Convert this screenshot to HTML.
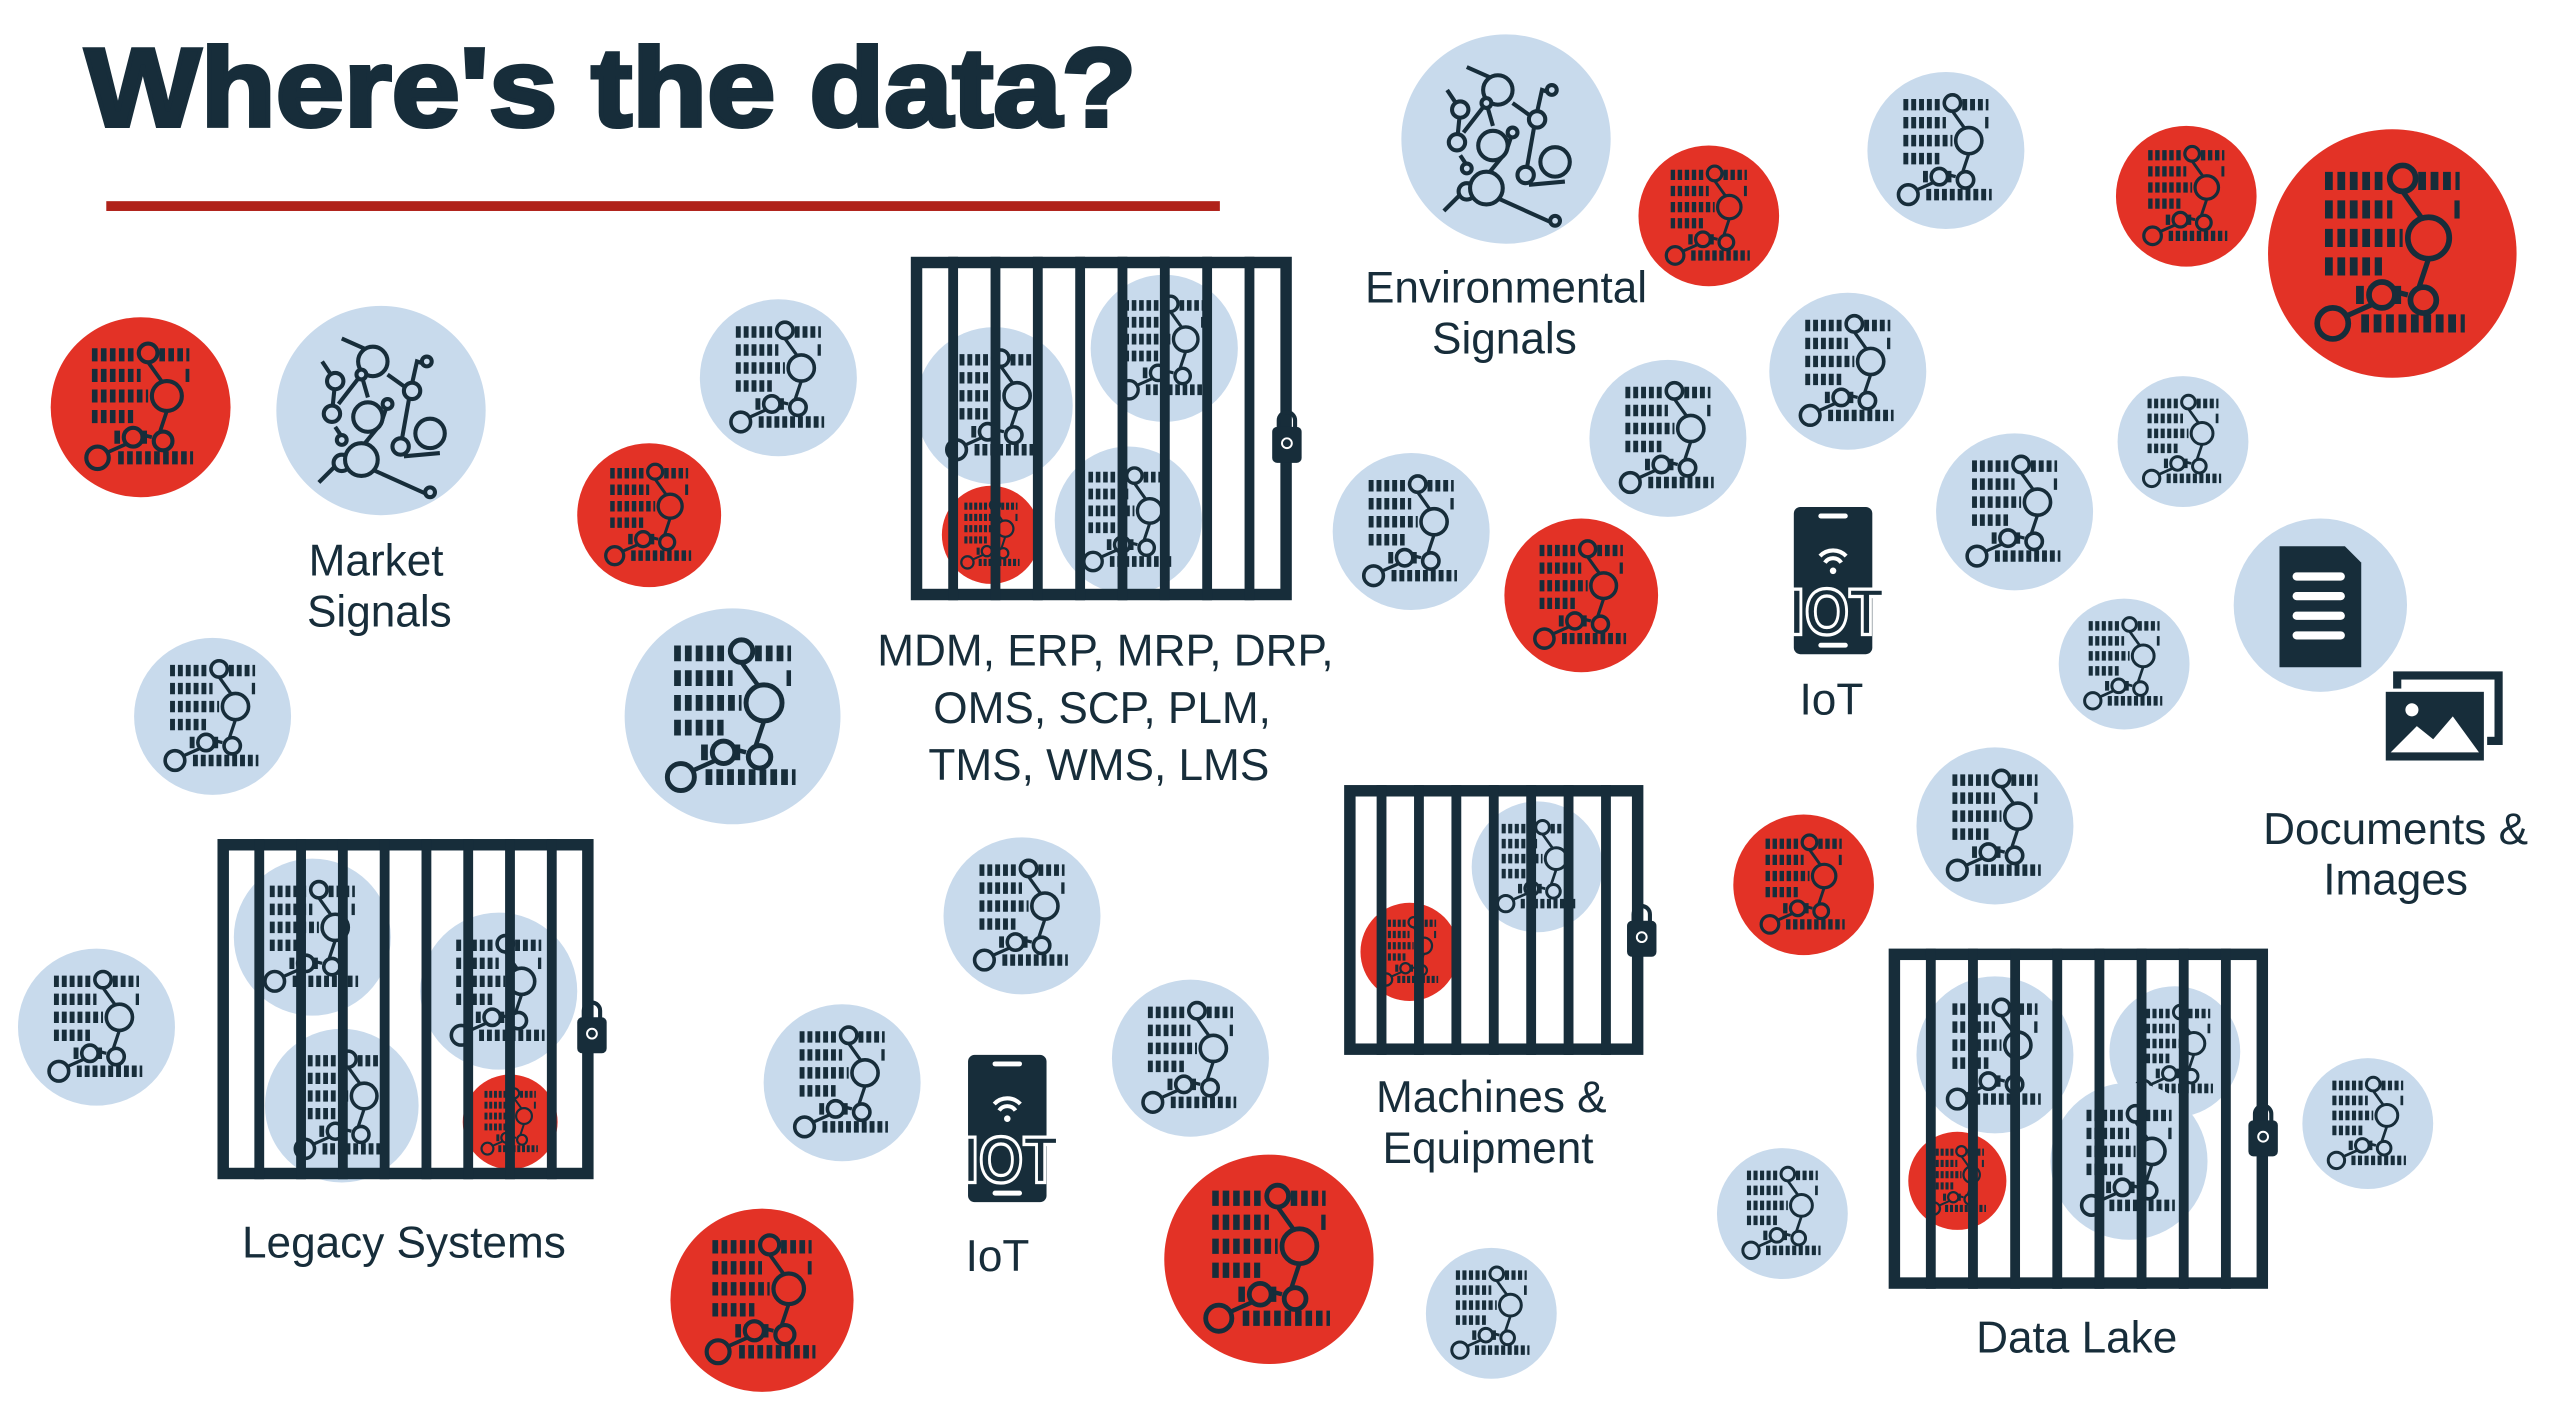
<!DOCTYPE html>
<html><head><meta charset="utf-8"><style>
html,body{margin:0;padding:0;background:#fff;}
svg{display:block;}
text{font-family:"Liberation Sans",sans-serif;fill:#172d3a;}
</style></head><body>
<svg id="s" width="2564" height="1418" viewBox="0 0 1568 867" preserveAspectRatio="none" xmlns="http://www.w3.org/2000/svg">
<rect width="1568" height="867" fill="#fff"/>
<text x="52" y="77" font-size="68" font-weight="bold" stroke="#172d3a" stroke-width="2.5" textLength="643" lengthAdjust="spacingAndGlyphs">Where's the data?</text>
<rect x="65" y="123" width="681" height="6" fill="#b0221a"/>
<g id="layer"></g>
<g font-size="27" text-anchor="middle">
<text x="230" y="352">Market</text><text x="232" y="383">Signals</text>
<text x="676" y="407">MDM, ERP, MRP, DRP,</text>
<text x="674" y="442">OMS, SCP, PLM,</text>
<text x="672" y="477">TMS, WMS, LMS</text>
<text x="921" y="185">Environmental</text><text x="920" y="216">Signals</text>
<text x="1120" y="437">IoT</text>
<text x="610" y="777">IoT</text>
<text x="1465" y="516">Documents &amp;</text><text x="1465" y="547">Images</text>
<text x="912" y="680">Machines &amp;</text><text x="910" y="711">Equipment</text>
<text x="247" y="769">Legacy Systems</text>
<text x="1270" y="827">Data Lake</text>
</g>
</svg>
<script>
const NS="http://www.w3.org/2000/svg",L=document.getElementById('layer');
const B="#c8daec",R="#e33226",D="#172d3a";
function el(t,a,p){const e=document.createElementNS(NS,t);for(const k in a)e.setAttribute(k,a[k]);(p||L).appendChild(e);return e;}
function data(cx,cy,r,bg){
 el('circle',{cx,cy,r,fill:bg});
 const g=el('g',{transform:`translate(${cx},${cy}) scale(${r/48})`,stroke:D,fill:bg});
 const rows=[[-28,-26,-3],[-17,-26,0],[-6,-26,4],[5,-26,-4],[16,-14,4],[27,-12,28]];
 rows.forEach(([y,x1,x2])=>el('line',{x1,y1:y,x2,y2:y,'stroke-width':7,'stroke-dasharray':'3 1.8'},g));
 el('line',{x1:10,y1:-28,x2:26,y2:-28,'stroke-width':7,'stroke-dasharray':'3 1.8'},g);
 el('line',{x1:24,y1:-17,x2:28,y2:-17,'stroke-width':7,'stroke-dasharray':'2 2'},g);
 el('path',{d:'M4,-24 L14,-10 M14,2 L10,14 M-4,18 L-22,26 M-2,14 L6,16',fill:'none','stroke-width':2},g);
 [[4,-29,5],[14,-6,8],[-4,16,5],[12,18,5],[-23,27,6]].forEach(([x,y,rr])=>el('circle',{cx:x,cy:y,r:rr,'stroke-width':2.2},g));
}
function net(cx,cy,r){
 el('circle',{cx,cy,r,fill:B});
 const g=el('g',{transform:`translate(${cx},${cy}) scale(${r/64})`,stroke:D,fill:B,'stroke-width':2.5});
 el('path',{d:'M-36,-30 L-28,-18 L-30,2 M-24,-44 L-6,-36 M4,-22 L18,-12 L22,-30 L28,-28 M-26,-4 L-12,-22 L-8,-8 M18,-12 L12,22 M14,28 L36,26 M-18,30 L0,8 L4,-4 M-38,44 L-28,34 M-10,34 L30,52 M-28,10 L-24,16',fill:'none'},g);
 [[-28,-18,5],[-5,-30,9],[19,-12,5],[-30,2,5],[-12,-22,3],[-8,4,9],[4,-4,3],[30,14,9],[12,22,5],[-24,32,5],[-12,30,10],[30,50,3],[-24,18,3],[28,-30,3]].forEach(([x,y,rr])=>el('circle',{cx:x,cy:y,r:rr},g));
}
function lock(x,y){
 el('path',{d:`M${x-5},${y-8} v-5 a5,5 0 0 1 10,0 v5`,fill:'none',stroke:D,'stroke-width':2.5});
 el('rect',{x:x-9,y:y-9,width:18,height:22,rx:3,fill:D});
 el('circle',{cx:x,cy:y+1,r:3,fill:'none',stroke:'#fff','stroke-width':1.2});
}
function cage(x1,y1,x2,y2,n,lx,ly){
 const w=7;
 el('rect',{x:x1+w/2,y:y1+w/2,width:x2-x1-w,height:y2-y1-w,fill:'none',stroke:D,'stroke-width':w});
 const step=(x2-x1)/(n+1);
 for(let i=1;i<=n;i++)el('rect',{x:x1+i*step-3,y:y1,width:6,height:y2-y1,fill:D});
 lock(lx,ly);
}
function iot(x,y){
 el('rect',{x:x,y:y,width:48,height:90,rx:4,fill:D});
 el('rect',{x:x+15,y:y+4,width:18,height:3,rx:1.5,fill:'#fff'});
 el('rect',{x:x+15,y:y+83,width:18,height:3,rx:1.5,fill:'#fff'});
 const cx=x+24,cy=y+34;
 el('path',{d:`M${cx-8},${cy-4} a11,11 0 0 1 16,0 M${cx-5},${cy} a6,6 0 0 1 10,0`,fill:'none',stroke:'#fff','stroke-width':2.5});
 el('circle',{cx,cy:cy+5,r:2,fill:'#fff'});
 const t=el('text',{x:x+26,y:y+78,'font-size':40,'text-anchor':'middle','font-weight':'bold',fill:D,stroke:'#fff','stroke-width':2,textLength:58,lengthAdjust:'spacingAndGlyphs'});t.textContent='IOT';
}
data(86,249,55,R); net(233,251,64);
data(476,231,48,B); data(397,315,44,R); data(130,438,48,B); data(448,438,66,B);
net(921,85,64); data(1045,132,43,R); data(1190,92,48,B); data(1337,120,43,R); data(1463,155,76,R);
data(1130,227,48,B); data(1020,268,48,B); data(1335,270,40,B); data(863,325,48,B); data(967,364,47,R);
data(1232,313,48,B); data(1299,406,40,B); data(1220,505,48,B); data(1103,541,43,R);
data(59,628,48,B); data(625,560,48,B); data(515,662,48,B); data(728,647,48,B);
data(466,795,56,R); data(776,770,64,R); data(912,803,40,B); data(1090,742,40,B); data(1448,687,40,B);
el('circle',{cx:1419,cy:370,r:53,fill:B});
el('path',{d:'M1394,334 h40 l10,10 v64 h-50 z',fill:D});
[350,362,374,386].forEach(y=>el('rect',{x:1402,y,width:32,height:5,rx:2.5,fill:'#fff'}));
el('rect',{x:1466,y:413,width:62,height:40,fill:'none',stroke:D,'stroke-width':5});
el('rect',{x:1458,y:422,width:62,height:44,fill:D,stroke:'#fff','stroke-width':2});
el('path',{d:'M1462,460 l16,-16 l10,8 l12,-14 l16,22 z',fill:'#fff'});
el('circle',{cx:1475,cy:434,r:4,fill:'#fff'});
data(608,248,48,B); data(712,213,45,B); data(690,318,45,B); data(606,327,30,R);
cage(557,157,790,367,8,787,270);
data(940,530,40,B); data(862,582,30,R);
cage(822,480,1005,645,7,1004,572);
data(191,573,48,B); data(305,606,48,B); data(209,676,47,B); data(312,686,29,R);
cage(133,513,363,721,8,362,631);
data(1220,645,48,B); data(1330,643,40,B); data(1302,710,48,B); data(1197,722,30,R);
cage(1155,580,1387,788,8,1384,694);
iot(1097,310); iot(592,645);
</script>
</body></html>
